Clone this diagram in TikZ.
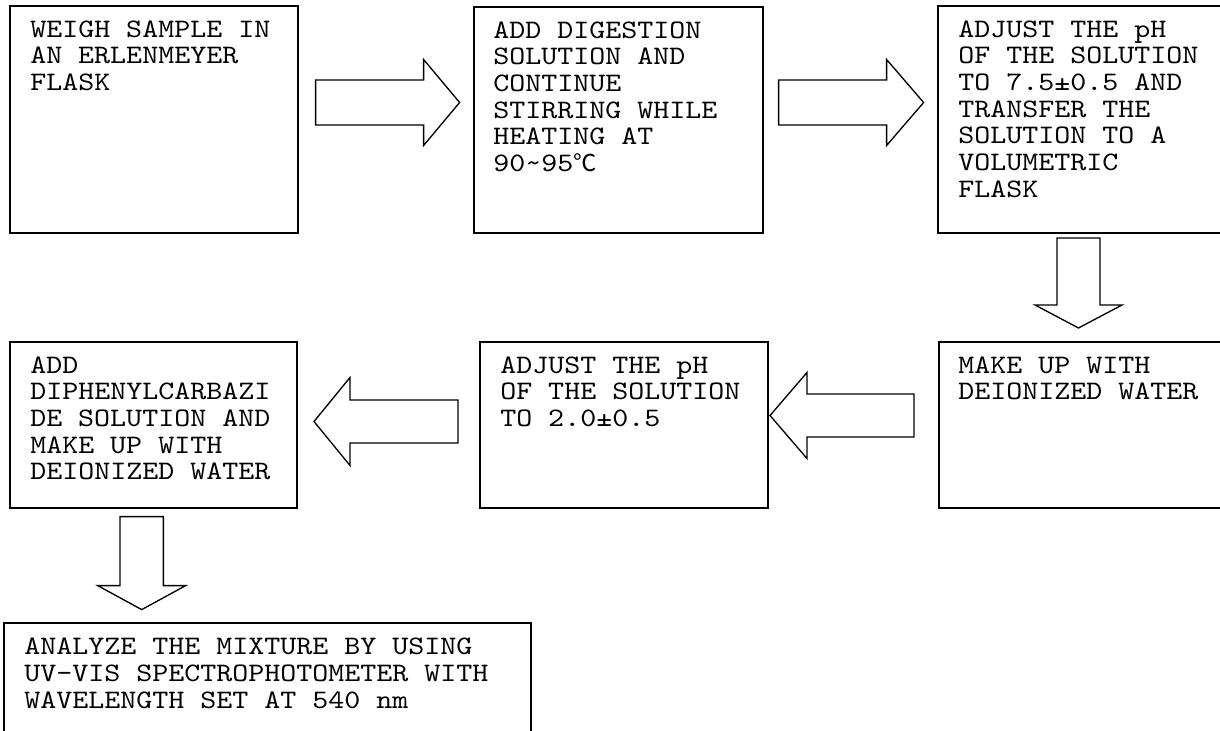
\documentclass[tikz,border=0pt]{standalone}
\usepackage{fontspec}
\newfontfamily\boxfont{lmmono10-regular.otf}[FakeStretch=1.143]
\newfontfamily\cjk{Noto Sans CJK SC}
\usetikzlibrary{calc}
\tikzset{
  box/.style={draw=black, line width=1.2pt, fill=white, rectangle, inner sep=0pt, anchor=north west},
  boxtext/.style={anchor=north west, inner sep=0pt, align=left, font=\boxfont\fontsize{20}{20}\selectfont},
  arrowline/.style={draw=black, line width=1pt, fill=white, line join=miter},
  pics/barrow/.style n args={4}{code={
    \draw[arrowline] (0,-#3) -- (#1,-#3) -- (#1,-#4) -- (#2,0) -- (#1,#4) -- (#1,#3) -- (0,#3) -- cycle;
  }}
}
\begin{document}
\begin{tikzpicture}[x=0.75pt, y=-0.75pt]
\clip (0,0) rectangle (1220,731);
\fill[white] (0,0) rectangle (1220,731);
% boxes
\node[box, minimum width=288*0.75pt, minimum height=227*0.75pt] (b1) at (9,5) {};
\node[box, minimum width=289*0.75pt, minimum height=226*0.75pt] (b2) at (473,6) {};
\node[box, minimum width=289*0.75pt, minimum height=227*0.75pt] (b3) at (937,5) {};
\node[box, minimum width=288*0.75pt, minimum height=166*0.75pt] (b4) at (938,341) {};
\node[box, minimum width=288*0.75pt, minimum height=166*0.75pt] (b5) at (479,341) {};
\node[box, minimum width=287*0.75pt, minimum height=166*0.75pt] (b6) at (9,341) {};
\node[box, minimum width=527*0.75pt, minimum height=130*0.75pt] (b7) at (3,622) {};
% texts
\node[boxtext] (t1) at ($(b1.north west)+(21,13.3)$) {\strut WEIGH SAMPLE IN\\AN ERLENMEYER\\FLASK};
\node[boxtext] (t2) at ($(b2.north west)+(20,13.3)$) {\strut ADD DIGESTION\\SOLUTION AND\\CONTINUE\\STIRRING WHILE\\HEATING AT\\90\textasciitilde95{\cjk\fontsize{17.5}{17.5}\selectfont ℃}};
\node[boxtext] (t3) at ($(b3.north west)+(21,13.3)$) {\strut ADJUST THE pH\\OF THE SOLUTION\\TO 7.5±0.5 AND\\TRANSFER THE\\SOLUTION TO A\\VOLUMETRIC\\FLASK};
\node[boxtext] (t4) at ($(b4.north west)+(20,13.3)$) {\strut MAKE UP WITH\\DEIONIZED WATER};
\node[boxtext] (t5) at ($(b5.north west)+(21,13.3)$) {\strut ADJUST THE pH\\OF THE SOLUTION\\TO 2.0±0.5};
\node[boxtext] (t6) at ($(b6.north west)+(21,13.3)$) {\strut ADD\\DIPHENYLCARBAZI\\DE SOLUTION AND\\MAKE UP WITH\\DEIONIZED WATER};
\node[boxtext] (t7) at ($(b7.north west)+(21,14)$) {\strut ANALYZE THE MIXTURE BY USING\\UV-VIS SPECTROPHOTOMETER WITH\\WAVELENGTH SET AT 540 nm};
% arrow tails
\coordinate (a1) at ($(b1.north east)+(17,97.5)$);
\coordinate (a2) at ($(b2.north east)+(15,96.5)$);
\coordinate (a3) at (1078.5,238);
\coordinate (a4) at ($(b4.north west)+(-24,74.5)$);
\coordinate (a5) at ($(b5.north west)+(-21,80.5)$);
\coordinate (a6) at ($(b6.south west)+(132.7,8)$);
% block arrows
\pic at (a1) {barrow={108}{144}{22.5}{43}};
\pic at (a2) {barrow={108}{145}{22.5}{43}};
\pic[rotate=-90] at (a3) {barrow={67}{90}{21.5}{43.5}};
\pic[rotate=180] at (a4) {barrow={107}{144}{21.5}{43}};
\pic[rotate=180] at (a5) {barrow={108}{144}{21.5}{44}};
\pic[rotate=-90] at (a6) {barrow={69}{93}{21.7}{44}};
\end{tikzpicture}
\end{document}
